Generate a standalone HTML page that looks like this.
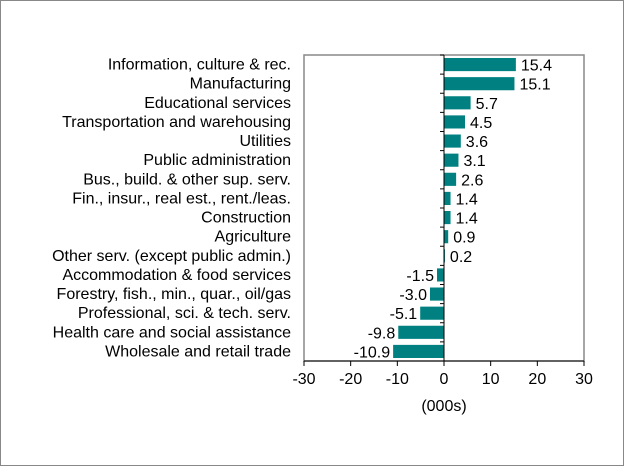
<!DOCTYPE html>
<html><head><meta charset="utf-8"><style>
body{margin:0;background:#fff}
svg text{font-family:"Liberation Sans",Arial,sans-serif;font-size:16px;fill:#000}
</style></head><body>
<svg width="624" height="466">
<rect x="0.5" y="0.5" width="623" height="465" fill="#fff" stroke="#888"/>
<g id="g"></g>
</svg>
<script>
const categories=["Information, culture & rec.","Manufacturing","Educational services","Transportation and warehousing","Utilities","Public administration","Bus., build. & other sup. serv.","Fin., insur., real est., rent./leas.","Construction","Agriculture","Other serv. (except public admin.)","Accommodation & food services","Forestry, fish., min., quar., oil/gas","Professional, sci. & tech. serv.","Health care and social assistance","Wholesale and retail trade"];
const values=[15.4,15.1,5.7,4.5,3.6,3.1,2.6,1.4,1.4,0.9,0.2,-1.5,-3.0,-5.1,-9.8,-10.9];
const valueLabels=["15.4","15.1","5.7","4.5","3.6","3.1","2.6","1.4","1.4","0.9","0.2","-1.5","-3.0","-5.1","-9.8","-10.9"];
const ticks=[-30,-20,-10,0,10,20,30];
const tickLabels=["-30","-20","-10","0","10","20","30"];
const NS="http://www.w3.org/2000/svg";
const g=document.getElementById('g');
const L=304,R=584,T=55,B=361,xmin=-30,xmax=30;
const x=v=>L+(v-xmin)/(xmax-xmin)*(R-L);
const band=(B-T)/categories.length;
const y=i=>T+i*band;
function mk(t,a){const e=document.createElementNS(NS,t);for(const k in a)e.setAttribute(k,a[k]);g.appendChild(e);return e;}
let e=mk('rect',{x:L,y:T,width:R-L,height:B-T,fill:'none',stroke:'#888','stroke-width':1.5});


categories.forEach((c,i)=>{
  const v=values[i],x0=x(0),x1=x(v);
  const b=mk('rect',{x:Math.min(x0,x1),y:y(i)+3,width:Math.abs(x1-x0),height:band-6,fill:'#008080'});
  
  
  const t=mk('text',{x:291,y:y(i)+band/2+5,'text-anchor':'end'});t.textContent=c;
  
  
  const vl=mk('text',{x:v>=0?x1+5:x1-3,y:y(i)+band/2+6,'text-anchor':v>=0?'start':'end'});vl.textContent=valueLabels[i];
  
  
  const tk=mk('line',{x1:x(0)-4,x2:x(0),y1:y(i),y2:y(i),stroke:'#000'});
  
  
});
e=mk('line',{x1:x(0),x2:x(0),y1:T,y2:B,stroke:'#000'});


ticks.forEach((t,i)=>{
  const l=mk('line',{x1:x(t),x2:x(t),y1:B,y2:B+5,stroke:'#000'});
  
  
  const tx=mk('text',{x:x(t),y:B+23,'text-anchor':'middle'});tx.textContent=tickLabels[i];
  
  
});
e=mk('line',{x1:L,x2:R,y1:B,y2:B,stroke:'#000'});


e=mk('text',{x:x(0),y:411,'text-anchor':'middle'});e.textContent='(000s)';


</script>
</body></html>
